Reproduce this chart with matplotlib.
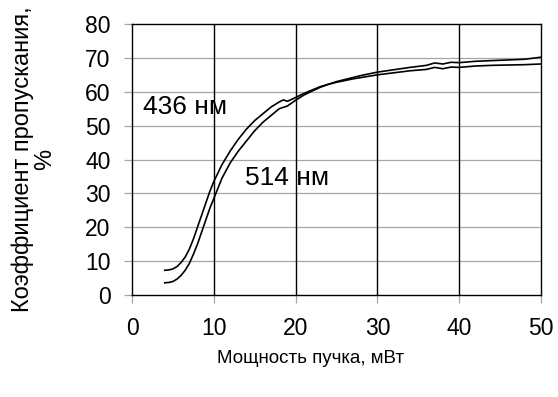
import matplotlib.pyplot as plt

plt.rcParams['font.family'] = ['Liberation Sans', 'DejaVu Sans']

# 436 nm curve (rises first)
x_436 = [4.0, 4.5, 5.0, 5.5, 6.0, 6.5, 7.0, 7.5, 8.0, 8.5, 9.0, 9.5, 10, 11, 12, 13, 14, 15, 16, 17,
         18, 18.5, 19, 20, 21, 22, 23, 24, 25, 26, 27, 28, 29, 30, 32, 34, 36, 37, 38, 39, 40,
         42, 44, 46, 48, 50]
y_436 = [7.3, 7.4, 7.7, 8.4, 9.6, 11.2, 13.5, 16.5, 20, 23.5, 27, 30.5, 33.5, 38.5, 42.5, 46, 49, 51.5, 53.5, 55.5,
         57, 57.6, 57.2, 58.3, 59.5, 60.5, 61.5, 62.2, 62.8, 63.3, 63.8, 64.2, 64.6, 65.0, 65.6, 66.2, 66.6, 67.2, 66.8, 67.3, 67.2,
         67.6, 67.8, 67.9, 68.0, 68.2]

# 514 nm curve
x_514 = [4.0, 4.5, 5.0, 5.5, 6.0, 6.5, 7.0, 7.5, 8.0, 8.5, 9.0, 9.5, 10, 10.5, 11, 12, 13, 14, 15, 16, 17,
         18, 18.5, 19, 20, 21, 22, 23, 24, 25, 26, 27, 28, 29, 30, 32, 34, 36, 37, 38, 39, 40,
         42, 44, 46, 48, 50]
y_514 = [3.6, 3.7, 4.0, 4.7, 5.8, 7.3, 9.3, 12, 15, 18.5, 22, 25.5, 28.5, 31.5, 34.5, 39, 42.5, 45.5, 48.5, 51, 53,
         55, 55.4, 55.8, 57.5, 59, 60.2, 61.3, 62.2, 63, 63.6, 64.2, 64.8, 65.3, 65.8, 66.5, 67.2, 67.8, 68.5, 68.2, 68.7, 68.6,
         69.0, 69.2, 69.4, 69.6, 70.2]

x_ticks = [0, 10, 20, 30, 40, 50]
y_ticks = [0, 10, 20, 30, 40, 50, 60, 70, 80]

fig = plt.figure(figsize=(5.58, 3.97), dpi=100)
ax = fig.add_axes([0.2366, 0.2569, 0.7329, 0.6826])

for y in y_ticks[1:-1]:
    ax.axhline(y, color='#a6a6a6', lw=0.9, zorder=1)
for x in x_ticks[1:-1]:
    ax.axvline(x, color='black', lw=1.0, zorder=1)

ax.plot(x_436, y_436, color='black', lw=1.2, zorder=3)
ax.plot(x_514, y_514, color='black', lw=1.2, zorder=3)

ax.text(1.4, 55.5, '436 нм', fontsize=19, va='center', ha='left')
ax.text(13.8, 34.5, '514 нм', fontsize=19, va='center', ha='left')

ax.set_xlim(0, 50)
ax.set_ylim(0, 80)
ax.set_xticks(x_ticks)
ax.set_yticks(y_ticks)
ax.tick_params(axis='both', direction='out', length=5.5, width=0.9, color='#a6a6a6',
               labelsize=16.5, pad=10)
for s in ax.spines.values():
    s.set_color('black')
    s.set_linewidth(1.0)

ax.set_ylabel('Коэффициент пропускания,\n%', fontsize=17, linespacing=1.0)
ax.yaxis.set_label_coords(-0.186, 0.5)
fig.text(0.556, 0.097, 'Мощность пучка, мВт', fontsize=13.5, ha='center', va='center')

fig.savefig('out.png', dpi=100)
